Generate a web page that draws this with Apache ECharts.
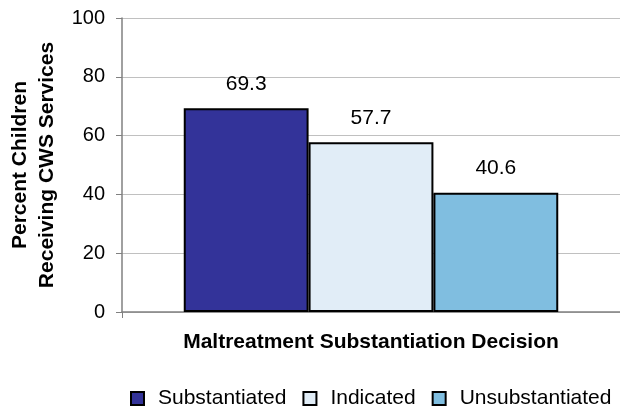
<!DOCTYPE html>
<html><head><meta charset="utf-8">
<script src="https://cdn.jsdelivr.net/npm/echarts@6/dist/echarts.min.js"></script>
<style>html,body{margin:0;padding:0;background:#fff}#c{width:620px;height:408px}</style>
</head><body><div id="c"></div>
<script>
const categories = [''];
const seriesNames = ['Substantiated', 'Indicated', 'Unsubstantiated'];
const seriesValues = [[69.3], [57.7], [40.6]];
const seriesColors = ['#333399', '#e1edf7', '#80bee0'];
const yTicks = [0, 20, 40, 60, 80, 100];

const font = 'Liberation Sans, Arial, sans-serif';
const chart = echarts.init(document.getElementById('c'), null, {renderer: 'canvas'});
chart.setOption({
  animation: false,
  textStyle: {fontFamily: font},
  grid: {left: 122, top: 18, right: 0, bottom: 96, containLabel: false, outerBoundsMode: 'none'},
  legend: {
    top: 383, left: 125,
    itemWidth: 13, itemHeight: 13, itemGap: 16,
    icon: 'rect',
    textStyle: {fontFamily: font, fontSize: 21, color: '#000', padding: [0, 0, 0, 9]},
    data: seriesNames
  },
  xAxis: {
    type: 'category', data: categories,
    name: 'Maltreatment Substantiation Decision',
    nameLocation: 'middle', nameGap: 20,
    nameTextStyle: {fontFamily: font, fontSize: 21, fontWeight: 'bold', color: '#000'},
    axisLine: {lineStyle: {color: '#808080', width: 1.5}},
    axisTick: {show: true, length: 6, lineStyle: {color: '#808080'}},
    axisLabel: {show: false}
  },
  yAxis: {
    type: 'value', min: yTicks[0], max: yTicks[yTicks.length - 1], interval: 20,
    name: 'Percent Children\nReceiving CWS Services',
    nameLocation: 'middle', nameGap: 61, nameRotate: 90,
    nameTextStyle: {fontFamily: font, fontSize: 21, fontWeight: 'bold', color: '#000', lineHeight: 27},
    axisLine: {show: true, lineStyle: {color: '#808080', width: 1.5}},
    axisTick: {show: true, length: 6, lineStyle: {color: '#808080'}},
    axisLabel: {fontFamily: font, fontSize: 20, color: '#000', margin: 17},
    splitLine: {lineStyle: {color: '#c0c0c0', width: 1}}
  },
  series: seriesNames.map((n, i) => ({
    name: n, type: 'bar', data: seriesValues[i],
    barGap: '0%', barCategoryGap: '24.8%',
    itemStyle: {color: seriesColors[i], borderColor: '#000', borderWidth: 2},
    label: {show: true, position: 'top', distance: 14, fontFamily: font, fontSize: 21, color: '#000',
      formatter: p => p.value.toFixed(1)}
  }))
});
</script></body></html>
